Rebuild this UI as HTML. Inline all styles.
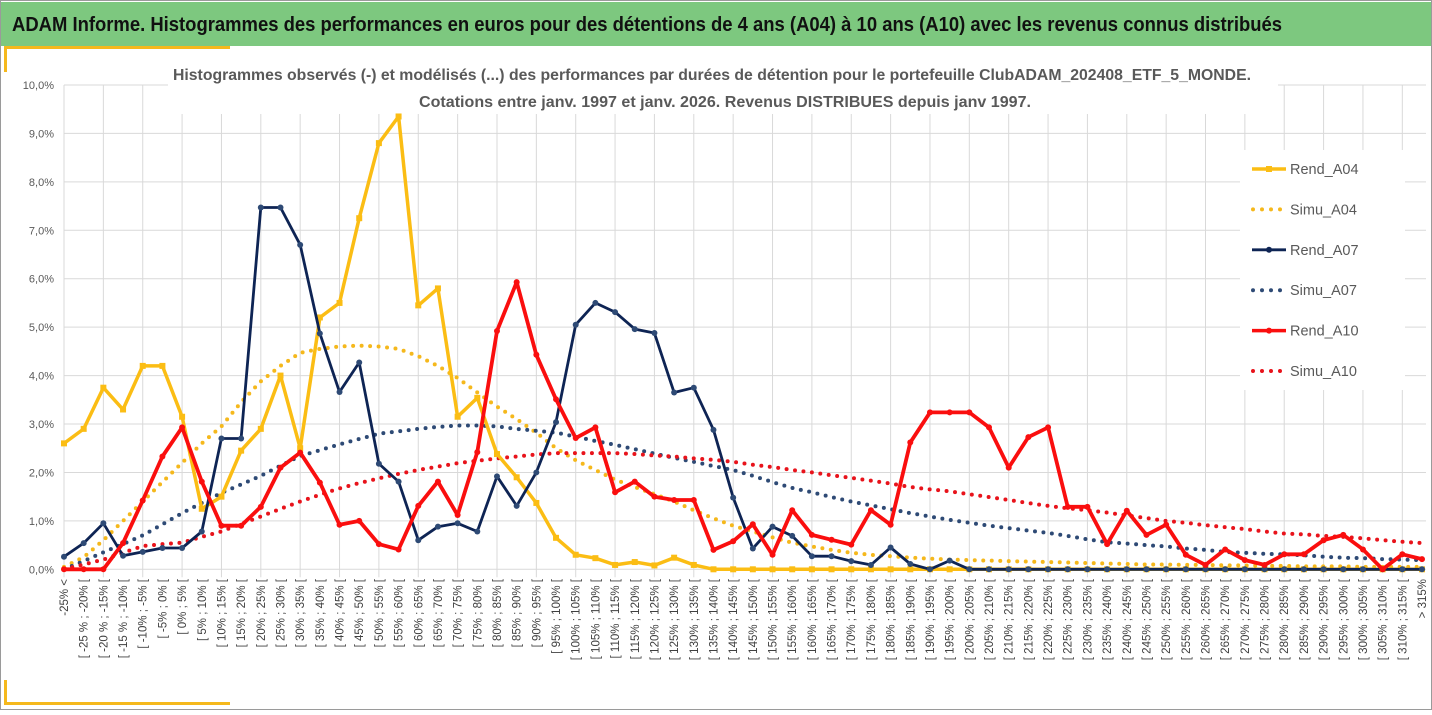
<!DOCTYPE html>
<html><head><meta charset="utf-8"><style>
html,body{margin:0;padding:0;background:#fff;}
body{width:1432px;height:710px;overflow:hidden;font-family:"Liberation Sans",sans-serif;}
</style></head><body>
<svg id="chart" width="1432" height="710" xmlns="http://www.w3.org/2000/svg" font-family="Liberation Sans, sans-serif">
<rect x="0.5" y="0.5" width="1431" height="709" fill="#fff" stroke="#9a9a9a"/>
<rect x="1" y="2" width="1430" height="44" fill="#7dc87f"/>
<text x="12" y="31" font-size="20.5" font-weight="bold" fill="#111" textLength="1270" lengthAdjust="spacingAndGlyphs">ADAM Informe. Histogrammes des performances en euros pour des détentions de 4 ans (A04) à 10 ans (A10) avec les revenus connus distribués</text>
<rect x="4" y="46" width="226" height="3" fill="#f5b81c"/>
<rect x="4" y="46" width="3" height="26" fill="#f5b81c"/>
<rect x="4" y="680" width="3" height="25" fill="#f5b81c"/>
<rect x="4" y="702" width="226" height="3" fill="#f5b81c"/>
<g id="grid"></g>
<rect x="168" y="62" width="1110" height="52" fill="#fff"/>
<text x="712" y="80" font-size="15.5" font-weight="bold" fill="#595959" text-anchor="middle" textLength="1078" lengthAdjust="spacingAndGlyphs">Histogrammes observés (-) et modélisés (...) des performances par durées de détention pour  le portefeuille ClubADAM_202408_ETF_5_MONDE.</text>
<text x="725" y="107" font-size="15.5" font-weight="bold" fill="#595959" text-anchor="middle" textLength="612" lengthAdjust="spacingAndGlyphs">Cotations  entre  janv. 1997  et janv. 2026. Revenus DISTRIBUES depuis janv 1997.</text>
<g id="yticks"></g><g id="xticks"></g><g id="series"></g>
<rect x="1240" y="150" width="165" height="240" fill="#fff"/>
<g id="legend"></g>
</svg>
<script>
const categories = ["-25% <","[ -25 % ; -20% [","[ -20 % ; -15% [","[ -15 % ; -10% [","[ -10% ; -5% [","[ -5% ; 0% [","[ 0% ; 5% ["];
for (let v = 5; v < 315; v += 5) categories.push("[ " + v + "% ; " + (v + 5) + "% [");
categories.push("> 315%");
const yTicks = [0,1,2,3,4,5,6,7,8,9,10];
const rendA04 = [2.6,2.9,3.75,3.3,4.2,4.2,3.15,1.25,1.5,2.45,2.9,4.0,2.5,5.2,5.5,7.25,8.8,9.35,5.45,5.8,3.15,3.54,2.38,1.9,1.37,0.65,0.3,0.23,0.09,0.15,0.08,0.24,0.09,0,0,0,0,0,0,0,0,0,0,0,0,0,0,0,0,0,0,0,0,0,0,0,0,0,0,0,0,0,0,0,0,0,0,0,0,0];
const simuA04 = [0.05,0.25,0.6,1.0,1.4,1.8,2.2,2.6,2.95,3.45,3.88,4.2,4.47,4.55,4.6,4.62,4.6,4.55,4.4,4.2,3.95,3.65,3.36,3.1,2.82,2.5,2.25,2.05,1.85,1.7,1.55,1.4,1.22,1.05,0.9,0.78,0.66,0.55,0.47,0.4,0.34,0.3,0.27,0.24,0.22,0.2,0.19,0.18,0.17,0.16,0.15,0.14,0.13,0.12,0.11,0.1,0.1,0.09,0.09,0.08,0.08,0.07,0.07,0.06,0.06,0.06,0.05,0.05,0.05,0.05];
const rendA07 = [0.26,0.54,0.95,0.28,0.36,0.44,0.44,0.78,2.7,2.7,7.47,7.47,6.7,4.87,3.66,4.27,2.18,1.81,0.6,0.88,0.95,0.78,1.92,1.31,2.0,3.04,5.05,5.5,5.31,4.96,4.88,3.65,3.75,2.88,1.48,0.43,0.88,0.69,0.27,0.27,0.17,0.09,0.45,0.11,0,0.18,0,0,0,0,0,0,0,0,0,0,0,0,0,0,0,0,0,0,0,0,0,0,0,0];
const simuA07 = [0.0,0.17,0.35,0.52,0.7,0.93,1.16,1.37,1.58,1.75,1.93,2.14,2.34,2.46,2.58,2.69,2.8,2.85,2.9,2.94,2.97,2.97,2.95,2.9,2.86,2.82,2.74,2.65,2.57,2.48,2.39,2.3,2.22,2.13,2.05,1.93,1.8,1.68,1.59,1.49,1.4,1.32,1.24,1.16,1.09,1.02,0.96,0.9,0.85,0.8,0.75,0.69,0.62,0.56,0.53,0.5,0.47,0.43,0.4,0.36,0.34,0.32,0.31,0.29,0.26,0.24,0.23,0.21,0.2,0.19];
const rendA10 = [0,0,0,0.54,1.42,2.33,2.93,1.81,0.9,0.9,1.29,2.1,2.41,1.79,0.92,1.0,0.52,0.41,1.31,1.81,1.12,2.42,4.92,5.93,4.43,3.51,2.71,2.93,1.59,1.81,1.5,1.43,1.43,0.4,0.58,0.93,0.3,1.22,0.71,0.61,0.51,1.22,0.92,2.62,3.24,3.24,3.24,2.93,2.1,2.73,2.93,1.29,1.29,0.52,1.21,0.71,0.92,0.3,0.09,0.41,0.19,0.09,0.31,0.31,0.6,0.71,0.41,0,0.31,0.21];
const simuA10 = [0,0.1,0.2,0.34,0.48,0.52,0.55,0.67,0.78,0.94,1.09,1.25,1.4,1.54,1.67,1.78,1.88,1.97,2.05,2.12,2.19,2.24,2.29,2.33,2.37,2.4,2.4,2.4,2.4,2.38,2.35,2.33,2.29,2.26,2.22,2.16,2.11,2.05,2.0,1.94,1.89,1.83,1.77,1.7,1.65,1.61,1.55,1.49,1.43,1.37,1.31,1.26,1.22,1.17,1.11,1.06,1.0,0.96,0.91,0.87,0.83,0.78,0.74,0.72,0.69,0.67,0.64,0.6,0.57,0.54];

const NS = "http://www.w3.org/2000/svg";
const X0 = 64, X1 = 1422, Y0 = 569.3, Y10 = 85;
const xPos = i => X0 + (X1 - X0) * i / (categories.length - 1);
const yPos = v => Y0 - (Y0 - Y10) * v / 10;
function mk(tag, attrs, parent) { const e = document.createElementNS(NS, tag); for (const k in attrs) e.setAttribute(k, attrs[k]); parent.appendChild(e); return e; }

const grid = document.getElementById('grid');
yTicks.forEach(t => {
  const l = mk('line', {x1: X0, x2: X1 + 4, y1: yPos(t), y2: yPos(t), stroke: '#d9d9d9', 'stroke-width': 1}, grid);
  
  
});
for (let i = 0; i < categories.length; i += 2) {
  const l = mk('line', {x1: xPos(i), x2: xPos(i), y1: Y10, y2: Y0 + 8, stroke: '#d9d9d9', 'stroke-width': 1}, grid);
  
  
}
const yt = document.getElementById('yticks');
yTicks.forEach(t => {
  const tx = mk('text', {x: 54, y: yPos(t) + 4, 'font-size': 11, fill: '#595959', 'text-anchor': 'end'}, yt);
  tx.textContent = t.toFixed(1).replace('.', ',') + '%';
  
  
});
const xt = document.getElementById('xticks');
categories.forEach((c, i) => {
  const x = xPos(i) + 4, y = 579;
  const tx = mk('text', {x: x, y: y, 'font-size': 11.5, fill: '#404040', 'text-anchor': 'end', transform: `rotate(-90 ${x} ${y})`}, xt);
  tx.textContent = c;
  
  
});

const series = [
  {name: 'simu-a04', data: simuA04, color: '#f5b81c', dotted: true},
  {name: 'simu-a07', data: simuA07, color: '#2e4a75', dotted: true},
  {name: 'simu-a10', data: simuA10, color: '#e8131b', dotted: true},
  {name: 'rend-a04', data: rendA04, color: '#fbbd14', w: 3.5, marker: 'sq'},
  {name: 'rend-a07', data: rendA07, color: '#0e2454', w: 2.8, marker: 'c', mcolor: '#2e4a75'},
  {name: 'rend-a10', data: rendA10, color: '#fa0e0e', w: 3.8, marker: 'c'}
];
const sg = document.getElementById('series');
series.forEach(s => {
  const g = mk('g', {}, sg);
  
  
  const pts = s.data.map((v, i) => xPos(i).toFixed(1) + ',' + yPos(v).toFixed(1)).join(' ');
  const attrs = s.dotted
    ? {points: pts, fill: 'none', stroke: s.color, 'stroke-width': 4, 'stroke-dasharray': '0 8.5', 'stroke-linecap': 'round'}
    : {points: pts, fill: 'none', stroke: s.color, 'stroke-width': s.w, 'stroke-linejoin': 'round'};
  const pl = mk('polyline', attrs, g);
  
  
  if (s.marker) s.data.forEach((v, i) => {
    let m;
    if (s.marker === 'sq') m = mk('rect', {x: xPos(i) - 3, y: yPos(v) - 3, width: 6, height: 6, fill: s.color}, g);
    else m = mk('circle', {cx: xPos(i), cy: yPos(v), r: 3, fill: s.mcolor || s.color}, g);
    
    
  });
});

const legendNames = ['Rend_A04','Simu_A04','Rend_A07','Simu_A07','Rend_A10','Simu_A10'];
const legendColors = ['#fbbd14','#f5b81c','#0e2454','#2e4a75','#fa0e0e','#e8131b'];
const lg = document.getElementById('legend');
legendNames.forEach((n, k) => {
  const y = 169 + k * 40.4;
  const g = mk('g', {}, lg);
  
  
  if (k % 2 === 0) {
    mk('line', {x1: 1252, x2: 1286, y1: y, y2: y, stroke: legendColors[k], 'stroke-width': k === 2 ? 2.8 : 3.5}, g);
    if (k === 0) mk('rect', {x: 1266, y: y - 3, width: 6, height: 6, fill: legendColors[k]}, g);
    else mk('circle', {cx: 1269, cy: y, r: 3, fill: legendColors[k]}, g);
  } else {
    mk('line', {x1: 1253, x2: 1282, y1: y, y2: y, stroke: legendColors[k], 'stroke-width': 4, 'stroke-dasharray': '0 9', 'stroke-linecap': 'round'}, g);
  }
  const t = mk('text', {x: 1290, y: y + 5, 'font-size': 14.5, fill: '#595959'}, g);
  t.textContent = n;
});
</script>
</body></html>
